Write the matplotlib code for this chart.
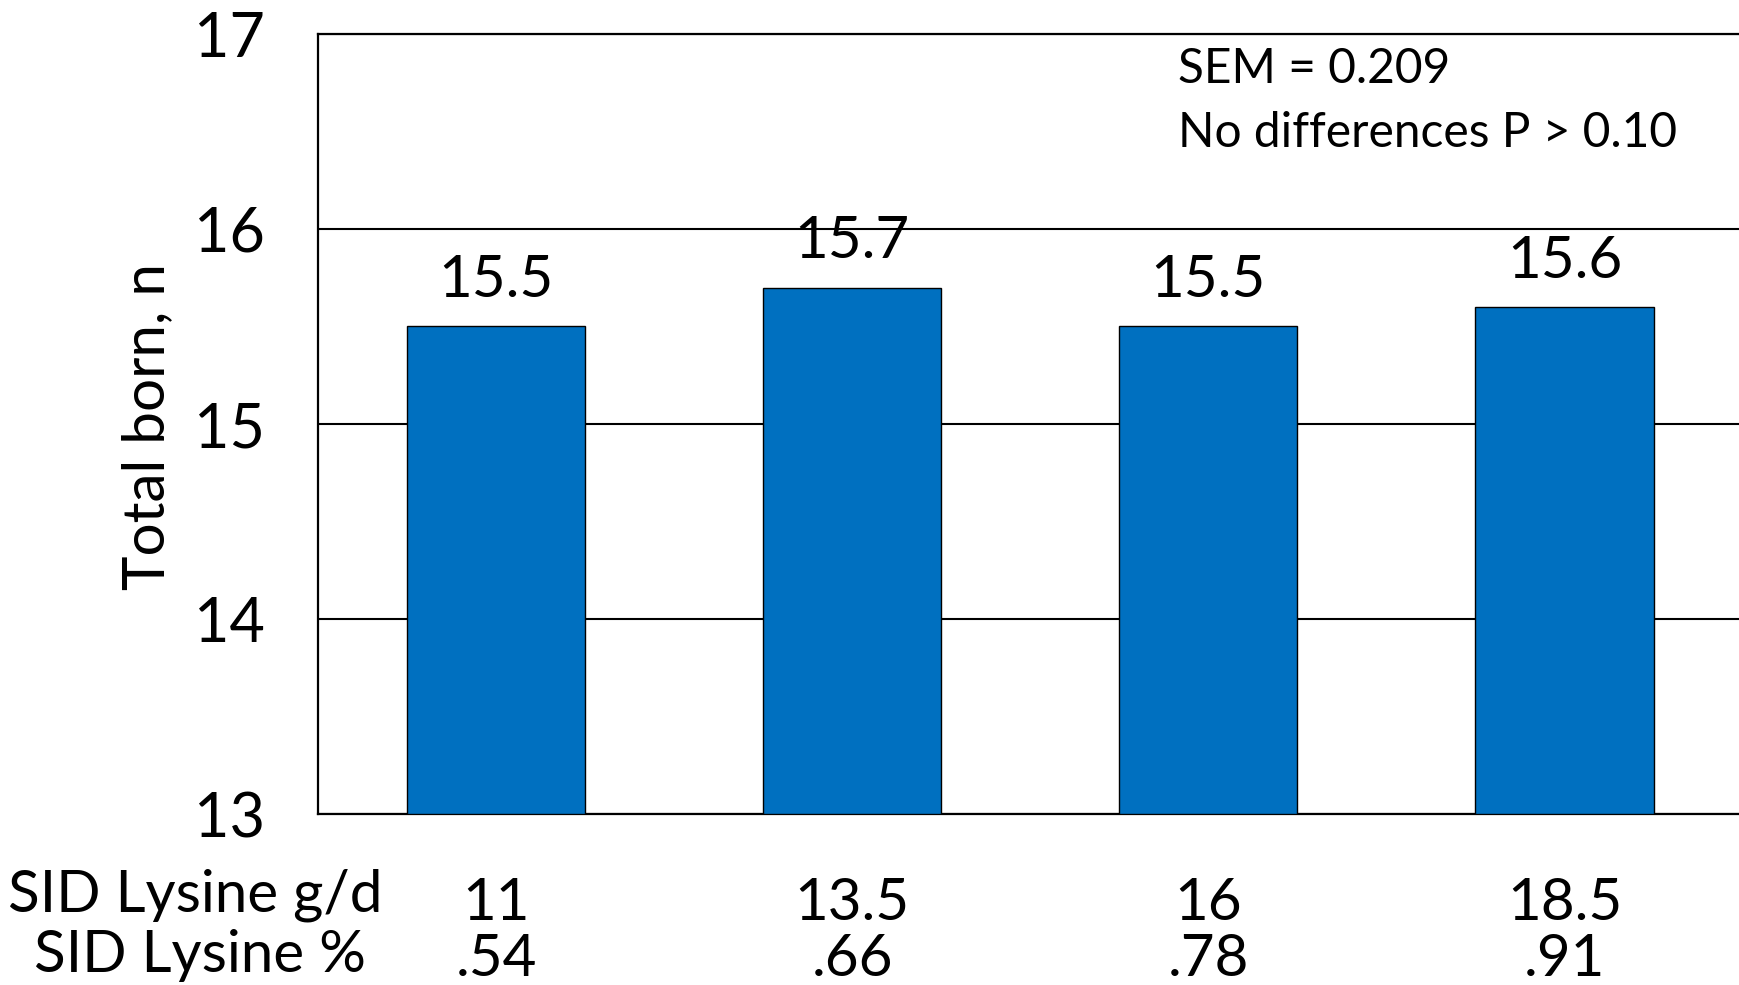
import matplotlib
matplotlib.use("Agg")
import matplotlib.pyplot as plt
import matplotlib.transforms as mtransforms

plt.rcParams['font.family'] = ['Lato', 'DejaVu Sans']

# data
lysine_gd = ['11', '13.5', '16', '18.5']
lysine_pct = ['.54', '.66', '.78', '.91']
total_born = [15.5, 15.7, 15.5, 15.6]

W, H = 1739, 985
fig = plt.figure(figsize=(W / 100, H / 100), dpi=100)
ax = fig.add_axes([318 / W, (H - 814) / H, (W - 318) / W, 780 / H])

x = range(len(total_born))
ax.bar(x, [v - 13 for v in total_born], bottom=13, width=0.5,
       color='#0070C0', edgecolor='black', linewidth=1.0, zorder=3)

ax.set_xlim(-0.5, 3.49)
ax.set_ylim(13, 17)
ax.set_yticks([13, 14, 15, 16, 17])
ax.tick_params(axis='y', length=0, labelsize=44, pad=38)
ax.set_xticks([])
ax.yaxis.grid(True, color='black', linewidth=1.5, zorder=0)
ax.set_axisbelow(True)
for side in ['left', 'top', 'bottom']:
    ax.spines[side].set_linewidth(1.6)
ax.spines['right'].set_visible(False)

for i, v in enumerate(total_born):
    ax.annotate(f'{v:.1f}', (i, v), xytext=(0, 33), textcoords='offset points',
                ha='center', va='center', fontsize=42)

# two rows of category labels under the axis
trans = mtransforms.blended_transform_factory(ax.transData, fig.transFigure)
for i in x:
    ax.text(i, 1 - 903 / H, lysine_gd[i], transform=trans, ha='center',
            va='center', fontsize=42)
    ax.text(i, 1 - 960 / H, lysine_pct[i], transform=trans, ha='center',
            va='center', fontsize=42)
fig.text(195 / W, 1 - 895 / H, 'SID Lysine g/d', ha='center', va='center', fontsize=42)
fig.text(200 / W, 1 - 955 / H, 'SID Lysine %', ha='center', va='center', fontsize=42)

fig.text(148 / W, 1 - 427 / H, 'Total born, n', rotation=90, ha='center',
         va='center', fontsize=42)

fig.text(1178 / W, 1 - 69 / H, 'SEM = 0.209', ha='left', va='center', fontsize=34.5)
fig.text(1178 / W, 1 - 133 / H, 'No differences P > 0.10', ha='left',
         va='center', fontsize=34.5)

fig.savefig('out.png', dpi=100)
